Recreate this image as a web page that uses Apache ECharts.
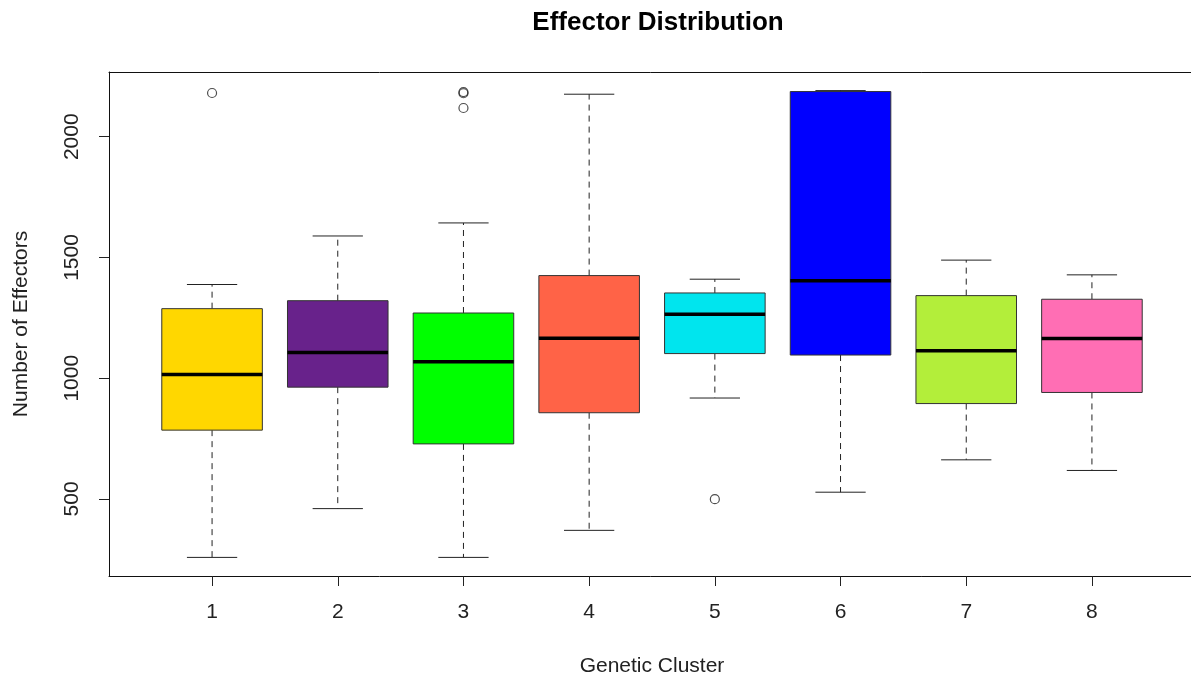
<!DOCTYPE html>
<html>
<head>
<meta charset="utf-8">
<script src="https://cdn.jsdelivr.net/npm/echarts@6/dist/echarts.min.js"></script>
<style>
  html, body { margin: 0; padding: 0; background: #fff; }
  #main { width: 1191px; height: 679px; }
</style>
</head>
<body>
<div id="main"></div>
<script>
// genetic clusters 1..8
var clusters = [1, 2, 3, 4, 5, 6, 7, 8];
var lowWhisker = [258, 460, 258, 370, 918, 528, 662, 618];
var q1 = [785, 963, 728, 857, 1102, 1096, 895, 941];
var median = [1015, 1107, 1068, 1165, 1265, 1404, 1114, 1164];
var q3 = [1288, 1321, 1270, 1425, 1353, 2187, 1342, 1327];
var highWhisker = [1388, 1589, 1643, 2176, 1410, 2191, 1489, 1428];
var outlierCluster = [1, 3, 3, 3, 5];
var outlierValue = [2181, 2185, 2180, 2119, 499];
var yTicks = [500, 1000, 1500, 2000];

var boxColors = ['#FFD700', '#68228B', '#00FF00', '#FF6347', '#00E5EE', '#0000FF', '#B3EE3A', '#FF6EB4'];

var boxData = [];
for (var i = 0; i < clusters.length; i++) {
	boxData.push([clusters[i], lowWhisker[i], q1[i], median[i], q3[i], highWhisker[i]]);
}
var outData = [];
for (var j = 0; j < outlierCluster.length; j++) {
	outData.push([outlierCluster[j], outlierValue[j]]);
}

function renderBox(params, api) {
	var x = api.value(0);
	var halfBox = api.size([0.8, 0])[0] / 2;
	var halfCap = api.size([0.4, 0])[0] / 2;
	var pLow = api.coord([x, api.value(1)]);
	var pQ1 = api.coord([x, api.value(2)]);
	var pMed = api.coord([x, api.value(3)]);
	var pQ3 = api.coord([x, api.value(4)]);
	var pHigh = api.coord([x, api.value(5)]);
	var cx = pMed[0];
	var dash = { stroke: '#222', lineWidth: 1, lineDash: [6, 5] };
	var solid = { stroke: '#222', lineWidth: 1 };
	return {
		type: 'group',
		children: [
			{ type: 'line', shape: { x1: cx, y1: pQ1[1], x2: cx, y2: pLow[1] }, style: dash },
			{ type: 'line', shape: { x1: cx, y1: pQ3[1], x2: cx, y2: pHigh[1] }, style: dash },
			{ type: 'line', shape: { x1: cx - halfCap, y1: pLow[1], x2: cx + halfCap, y2: pLow[1] }, style: solid },
			{ type: 'line', shape: { x1: cx - halfCap, y1: pHigh[1], x2: cx + halfCap, y2: pHigh[1] }, style: solid },
			{
				type: 'rect',
				shape: { x: cx - halfBox, y: pQ3[1], width: halfBox * 2, height: pQ1[1] - pQ3[1] },
				style: { fill: boxColors[params.dataIndex], stroke: '#333', lineWidth: 1 }
			},
			{ type: 'line', shape: { x1: cx - halfBox, y1: pMed[1], x2: cx + halfBox, y2: pMed[1] }, style: { stroke: '#000', lineWidth: 3.5 } }
		]
	};
}

var chart = echarts.init(document.getElementById('main'), null, { renderer: 'canvas' });
var fontName = 'Liberation Sans, Arial, sans-serif';
var frame = { show: true, lineStyle: { color: '#111', width: 1 } };

chart.setOption({
	animation: false,
	title: {
		text: 'Effector Distribution',
		left: 653,
		textAlign: 'center',
		top: 5,
		textStyle: { fontFamily: fontName, fontSize: 26, fontWeight: 'bold', color: '#000' }
	},
	grid: {
		left: 109, top: 72, width: 1086, height: 504,
		outerBoundsMode: 'none',
		containLabel: false,
		show: false
	},
	xAxis: [{
		type: 'value',
		min: 0.18,
		max: 8.82,
		name: 'Genetic Cluster',
		nameLocation: 'middle',
		nameGap: 80,
		nameTextStyle: { fontFamily: fontName, fontSize: 21, color: '#222' },
		splitLine: { show: false },
		axisLine: frame,
		axisTick: { show: true, length: 10, customValues: clusters, lineStyle: { color: '#222' } },
		axisLabel: { customValues: clusters, margin: 26, fontFamily: fontName, fontSize: 21, color: '#222' }
	}, {
		// top edge of the plot box
		type: 'value',
		position: 'top',
		min: 0.18,
		max: 8.82,
		splitLine: { show: false },
		axisLine: frame,
		axisTick: { show: false },
		axisLabel: { show: false }
	}],
	yAxis: {
		type: 'value',
		min: 181,
		max: 2268,
		name: 'Number of Effectors',
		nameLocation: 'middle',
		nameGap: 77,
		nameTextStyle: { fontFamily: fontName, fontSize: 21, color: '#222' },
		splitLine: { show: false },
		axisLine: frame,
		axisTick: { show: true, length: 10, customValues: yTicks, lineStyle: { color: '#222' } },
		axisLabel: {
			customValues: yTicks, rotate: 90, margin: 26,
			fontFamily: fontName, fontSize: 21, color: '#222',
			formatter: function (v) { return String(v); }
		}
	},
	series: [{
		type: 'custom',
		renderItem: renderBox,
		encode: { x: 0, y: [1, 2, 3, 4, 5] },
		data: boxData
	}, {
		type: 'scatter',
		symbol: 'circle',
		symbolSize: 9,
		itemStyle: { color: 'rgba(255,255,255,0)', borderColor: '#222', borderWidth: 1.2 },
		data: outData
	}]
});
</script>
</body>
</html>
